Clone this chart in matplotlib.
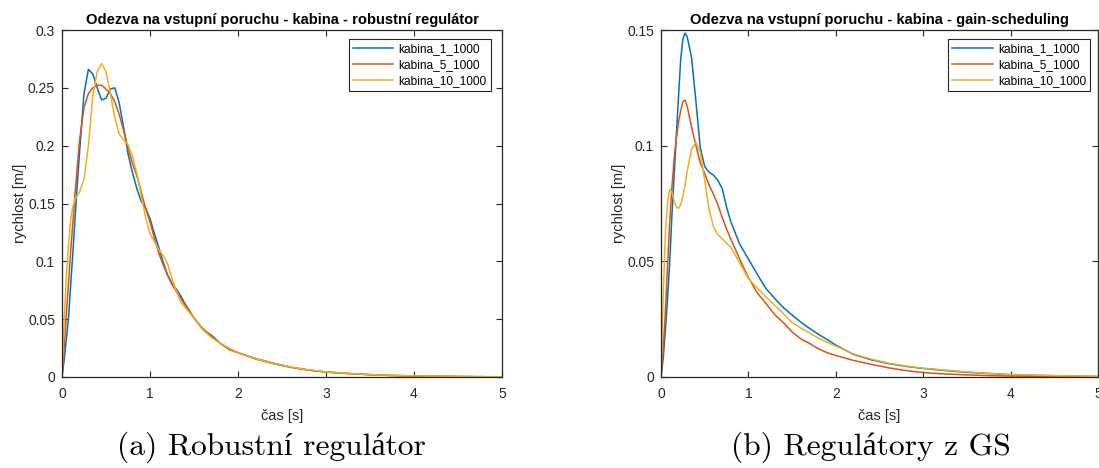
import matplotlib
matplotlib.use("Agg")
import matplotlib.pyplot as plt

# ---------------- data ----------------
series_names = ["kabina_1_1000", "kabina_5_1000", "kabina_10_1000"]
colors = ["#0072BD", "#D95319", "#EDB120"]

t_rob = [0, 0.025, 0.05, 0.075, 0.1, 0.125, 0.15, 0.175, 0.2, 0.25, 0.3, 0.35, 0.4,
         0.45, 0.5, 0.55, 0.6, 0.65, 0.7, 0.75, 0.8, 0.85, 0.9, 0.95, 1.0, 1.05, 1.1,
         1.15, 1.2, 1.25, 1.3, 1.35, 1.4, 1.5, 1.6, 1.7, 1.8, 1.9, 2.0, 2.2, 2.4, 2.6,
         2.8, 3.0, 3.25, 3.5, 3.75, 4.0, 4.5, 5.0]
rob_k1 = [0, 0.015, 0.033, 0.052, 0.081, 0.109, 0.139, 0.168, 0.195, 0.245, 0.266,
          0.262, 0.250, 0.2395, 0.241, 0.249, 0.250, 0.237, 0.216, 0.193, 0.177, 0.163,
          0.152, 0.146, 0.137, 0.124, 0.112, 0.099, 0.088, 0.081, 0.076, 0.070, 0.063,
          0.051, 0.041, 0.036, 0.029, 0.024, 0.021, 0.016, 0.012, 0.0085, 0.006,
          0.0043, 0.003, 0.002, 0.0013, 0.0009, 0.0004, 0.0001]
rob_k5 = [0, 0.025, 0.055, 0.082, 0.110, 0.135, 0.160, 0.183, 0.205, 0.233, 0.245,
          0.250, 0.252, 0.2523, 0.249, 0.245, 0.238, 0.227, 0.213, 0.198, 0.185, 0.174,
          0.160, 0.146, 0.134, 0.120, 0.107, 0.097, 0.088, 0.080, 0.074, 0.068, 0.062,
          0.051, 0.042, 0.035, 0.029, 0.024, 0.021, 0.0155, 0.0115, 0.0083, 0.006,
          0.0043, 0.003, 0.002, 0.0013, 0.0009, 0.0004, 0.0001]
rob_k10 = [0, 0.050, 0.088, 0.115, 0.137, 0.148, 0.154, 0.157, 0.160, 0.171, 0.200,
           0.243, 0.264, 0.271, 0.264, 0.245, 0.224, 0.210, 0.205, 0.201, 0.191, 0.176,
           0.157, 0.138, 0.124, 0.117, 0.110, 0.105, 0.098, 0.085, 0.074, 0.065, 0.060,
           0.051, 0.041, 0.034, 0.029, 0.025, 0.021, 0.0158, 0.0118, 0.0086, 0.0062,
           0.0045, 0.0031, 0.0021, 0.0014, 0.001, 0.0005, 0.0002]

t_gs = [0, 0.025, 0.05, 0.075, 0.1, 0.125, 0.15, 0.175, 0.2, 0.225, 0.25, 0.275, 0.3,
        0.35, 0.4, 0.45, 0.5, 0.55, 0.6, 0.65, 0.7, 0.75, 0.8, 0.9, 1.0, 1.1, 1.2, 1.3,
        1.4, 1.5, 1.6, 1.7, 1.8, 1.9, 2.0, 2.2, 2.4, 2.6, 2.8, 3.0, 3.25, 3.5, 3.75,
        4.0, 4.5, 5.0]
gs_k1 = [0, 0.008, 0.020, 0.034, 0.050, 0.070, 0.087, 0.104, 0.121, 0.137, 0.146,
         0.1486, 0.147, 0.138, 0.119, 0.099, 0.091, 0.0885, 0.0873, 0.085, 0.0815,
         0.0735, 0.067, 0.0575, 0.051, 0.0445, 0.0383, 0.034, 0.030, 0.0268, 0.0237,
         0.021, 0.0185, 0.0162, 0.0138, 0.0098, 0.0075, 0.0058, 0.0046, 0.0037,
         0.0028, 0.002, 0.0015, 0.001, 0.0005, 0.0002]
gs_k5 = [0, 0.012, 0.028, 0.048, 0.067, 0.082, 0.094, 0.103, 0.110, 0.115, 0.119,
         0.1197, 0.117, 0.108, 0.100, 0.0925, 0.088, 0.083, 0.079, 0.0745, 0.069,
         0.064, 0.0595, 0.051, 0.043, 0.0365, 0.0318, 0.027, 0.0235, 0.0195, 0.0165,
         0.0145, 0.0122, 0.0105, 0.0093, 0.0072, 0.0055, 0.004, 0.0028, 0.0019,
         0.0013, 0.0009, 0.0006, 0.0004, 0.0002, 0.0001]
gs_k10 = [0, 0.035, 0.062, 0.076, 0.0812, 0.080, 0.076, 0.0735, 0.0729, 0.0745,
          0.078, 0.083, 0.089, 0.0985, 0.1015, 0.097, 0.085, 0.0725, 0.065, 0.0615,
          0.0598, 0.0578, 0.056, 0.0493, 0.0425, 0.0385, 0.0347, 0.031, 0.0275,
          0.0235, 0.0212, 0.019, 0.0168, 0.015, 0.0133, 0.010, 0.0078, 0.006, 0.0048,
          0.0038, 0.003, 0.0022, 0.0016, 0.0011, 0.0006, 0.0003]

titles = ["Odezva na vstupní poruchu - kabina - robustní regulátor",
          "Odezva na vstupní poruchu - kabina - gain-scheduling"]
captions = ["(a) Robustní regulátor", "(b) Regulátory z GS"]
xlabel = "čas [s]"
ylabel = "rychlost [m/]"
xticks = [0, 1, 2, 3, 4, 5]
yticks_rob = [0, 0.05, 0.1, 0.15, 0.2, 0.25, 0.3]
yticks_gs = [0, 0.05, 0.1, 0.15]

# ---------------- plot ----------------
plt.rcParams['font.family'] = ['Liberation Sans', 'DejaVu Sans']
W, H = 1099, 468
fig = plt.figure(figsize=(W / 100, H / 100), dpi=100)

axc = "#262626"
panels = [
    dict(pos=[62 / W, 1 - 377 / H, 440 / W, 347 / H], t=t_rob,
         ys=[rob_k1, rob_k5, rob_k10], ylim=(0, 0.3), yticks=yticks_rob,
         ylabels=["0", "0.05", "0.1", "0.15", "0.2", "0.25", "0.3"],
         leg=(0.974, 0.973), cap_x=271),
    dict(pos=[661 / W, 1 - 377 / H, 437 / W, 347 / H], t=t_gs,
         ys=[gs_k1, gs_k5, gs_k10], ylim=(0, 0.15), yticks=yticks_gs,
         ylabels=["0", "0.05", "0.1", "0.15"],
         leg=(0.982, 0.973), cap_x=871),
]

for i, p in enumerate(panels):
    ax = fig.add_axes(p["pos"])
    for y, c, n in zip(p["ys"], colors, series_names):
        ax.plot(p["t"], y, color=c, lw=1.1, label=n)
    ax.set_xlim(0, 5)
    ax.set_ylim(*p["ylim"])
    ax.set_xticks(xticks)
    ax.set_xticklabels([str(v) for v in xticks])
    ax.set_yticks(p["yticks"])
    ax.set_yticklabels(p["ylabels"])
    ax.tick_params(direction="in", length=4, width=0.8, colors=axc,
                   labelsize=10, top=True, right=True)
    ax.tick_params(axis="x", pad=7)
    ax.tick_params(axis="y", pad=5)
    for s in ax.spines.values():
        s.set_color(axc)
        s.set_linewidth(0.9)
    ax.set_title(titles[i], fontsize=10.6, fontweight="bold", color="black", pad=4)
    ax.set_xlabel(xlabel, fontsize=10.5, color=axc, labelpad=6)
    ax.set_ylabel(ylabel, fontsize=10.5, color=axc, labelpad=1)
    leg = ax.legend(loc="upper right", bbox_to_anchor=p["leg"], fontsize=8.6,
                    frameon=True, fancybox=False, framealpha=1, edgecolor=axc,
                    handlelength=3.4, handletextpad=0.4, borderpad=0.35,
                    labelspacing=0.32, borderaxespad=0)
    leg.get_frame().set_linewidth(0.8)
    fig.text(p["cap_x"] / W, 1 - 447 / H, captions[i], ha="center", va="center",
             fontsize=22.7, family=["cmr10", "Liberation Serif"], color="black")

fig.savefig("out.png", dpi=100)
